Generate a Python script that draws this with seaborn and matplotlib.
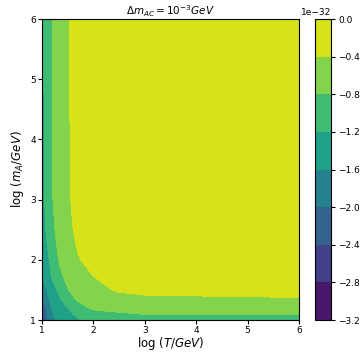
import numpy as np
import seaborn as sns
import matplotlib
matplotlib.use('Agg')
import matplotlib.pyplot as plt

# grid nodes (log T, log m_A)
log_T = [1.0, 1.05, 1.1, 1.2, 1.35, 1.5, 1.7, 2.0, 2.5, 3.0, 6.0]
log_mA = [1.0, 1.05, 1.1, 1.2, 1.35, 1.5, 1.7, 2.0, 2.5, 3.0, 6.0]

# values in units of 1e-32, one row per log_mA node
z_10 = [-2.75, -2.42, -2.07, -1.70, -1.48, -1.34, -1.21, -1.16, -1.13, -1.12, -1.10]
z_105 = [-2.62, -2.30, -2.03, -1.67, -1.45, -1.32, -1.19, -1.07, -1.00, -0.96, -0.92]
z_11 = [-2.52, -2.22, -1.97, -1.63, -1.42, -1.28, -1.12, -0.93, -0.84, -0.79, -0.76]
z_12 = [-2.42, -2.15, -1.90, -1.57, -1.38, -1.21, -0.96, -0.74, -0.70, -0.66, -0.62]
z_135 = [-2.10, -1.88, -1.68, -1.47, -1.22, -0.97, -0.74, -0.58, -0.49, -0.45, -0.42]
z_15 = [-1.88, -1.72, -1.59, -1.37, -1.07, -0.82, -0.62, -0.48, -0.37, -0.33, -0.30]
z_17 = [-1.62, -1.50, -1.39, -1.17, -0.90, -0.70, -0.55, -0.41, -0.31, -0.27, -0.23]
z_20 = [-1.52, -1.40, -1.29, -1.08, -0.74, -0.58, -0.42, -0.30, -0.21, -0.17, -0.13]
z_25 = [-1.36, -1.25, -1.13, -0.88, -0.65, -0.48, -0.33, -0.22, -0.14, -0.10, -0.06]
z_30 = [-1.30, -1.21, -1.07, -0.82, -0.60, -0.44, -0.30, -0.19, -0.11, -0.07, -0.03]
z_60 = [-1.25, -1.16, -1.04, -0.79, -0.58, -0.42, -0.28, -0.17, -0.09, -0.05, -0.01]

levels = [-3.2, -2.8, -2.4, -2.0, -1.6, -1.2, -0.8, -0.4, 0.0]

Z = np.array([z_10, z_105, z_11, z_12, z_135, z_15, z_17, z_20, z_25, z_30, z_60]) * 1e-32
X, Y = np.meshgrid(log_T, log_mA)

cmap = sns.color_palette("viridis", as_cmap=True)

fig = plt.figure(figsize=(3.61, 3.52), dpi=100)
ax = fig.add_axes([0.1163, 0.0909, 0.7119, 0.8551])
cax = fig.add_axes([0.8726, 0.0909, 0.0443, 0.8551])

cs = ax.contourf(X, Y, Z, levels=np.array(levels) * 1e-32, cmap=cmap)
ax.set_xlim(1, 6)
ax.set_ylim(1, 6)
ax.set_xticks([1, 2, 3, 4, 5, 6])
ax.set_yticks([1, 2, 3, 4, 5, 6])
ax.tick_params(labelsize=6.5, length=3, pad=1.5)
ax.set_xlabel(r'$\log\,(T/GeV)$', fontsize=8.5, labelpad=0)
ax.set_ylabel(r'$\log\,(m_A/GeV)$', fontsize=8.5, labelpad=3)
ax.set_title(r'$\Delta m_{AC} = 10^{-3} GeV$', fontsize=7.5, pad=2)

cb = fig.colorbar(cs, cax=cax)
cb.ax.tick_params(labelsize=6.5, length=3, pad=2)
cb.ax.yaxis.get_offset_text().set_fontsize(6.5)

fig.savefig('out.png', dpi=100)
